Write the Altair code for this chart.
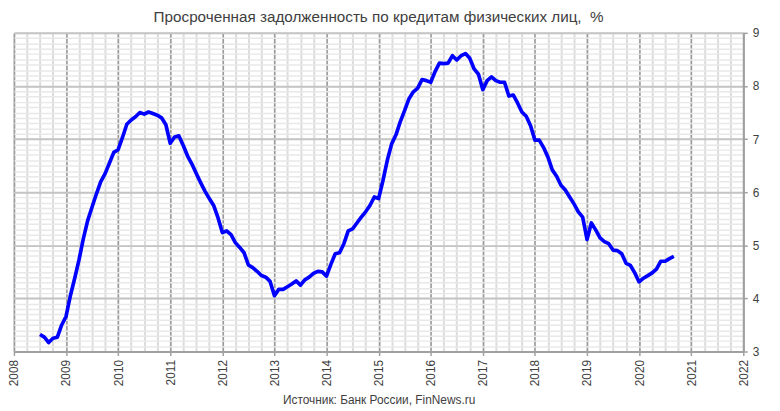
import altair as alt
import pandas as pd

# Monthly overdue share (%), July 2008 .. September 2020
start_month = "2008-07-01"
values_2008 = [3.32, 3.27, 3.17, 3.25, 3.27, 3.50]
values_2009 = [3.66, 4.05, 4.38, 4.73, 5.13, 5.47, 5.72, 5.97, 6.20, 6.35, 6.55, 6.75]
values_2010 = [6.80, 7.03, 7.28, 7.36, 7.42, 7.50, 7.47, 7.51, 7.48, 7.45, 7.40, 7.27]
values_2011 = [6.92, 7.04, 7.06, 6.88, 6.68, 6.53, 6.35, 6.18, 6.02, 5.88, 5.75, 5.52]
values_2012 = [5.24, 5.27, 5.20, 5.05, 4.96, 4.86, 4.63, 4.58, 4.51, 4.43, 4.40, 4.32]
values_2013 = [4.05, 4.17, 4.17, 4.22, 4.27, 4.33, 4.25, 4.35, 4.40, 4.47, 4.51, 4.50]
values_2014 = [4.42, 4.64, 4.84, 4.86, 5.03, 5.27, 5.31, 5.42, 5.53, 5.63, 5.75, 5.91]
values_2015 = [5.88, 6.22, 6.60, 6.91, 7.08, 7.33, 7.54, 7.76, 7.89, 7.96, 8.12, 8.10]
values_2016 = [8.07, 8.27, 8.43, 8.42, 8.43, 8.57, 8.49, 8.57, 8.61, 8.52, 8.32, 8.22]
values_2017 = [7.93, 8.10, 8.17, 8.10, 8.07, 8.07, 7.81, 7.83, 7.68, 7.51, 7.43, 7.25]
values_2018 = [6.98, 6.98, 6.84, 6.66, 6.42, 6.30, 6.13, 6.04, 5.91, 5.78, 5.63, 5.53]
values_2019 = [5.11, 5.42, 5.29, 5.14, 5.07, 5.03, 4.91, 4.90, 4.84, 4.66, 4.62, 4.48]
values_2020 = [4.31, 4.38, 4.43, 4.48, 4.55, 4.70, 4.70, 4.75, 4.79]

all_values = (values_2008 + values_2009 + values_2010 + values_2011 + values_2012
              + values_2013 + values_2014 + values_2015 + values_2016 + values_2017
              + values_2018 + values_2019 + values_2020)

months = pd.date_range(start_month, periods=len(all_values), freq="MS")
df = pd.DataFrame({"t": months.year + (months.month - 1) / 12.0, "v": all_values})

year_ticks = list(range(2008, 2023))
value_ticks = list(range(3, 10))
quarter_ticks = [y + q / 4 for y in range(2008, 2022) for q in range(4)] + [2022]
minor_value_ticks = [round(3 + i / 10, 1) for i in range(61)]

title_text = "Просроченная задолженность по кредитам физических лиц,\u00a0\u00a0%"
source_text = "Источник: Банк России, FinNews.ru"

FONT = "Liberation Sans"
TXT = "#404040"

xscale = alt.Scale(domain=[2008, 2022], nice=False, zero=False)
yscale = alt.Scale(domain=[3, 9], nice=False, zero=False)

base = alt.Chart(df)

minor = base.mark_line(strokeOpacity=0).encode(
    x=alt.X("t:Q", scale=xscale, axis=alt.Axis(
        values=quarter_ticks, grid=True, gridColor="#dcdcdc", gridWidth=2,
        labels=False, ticks=False, domain=False, title=None, orient="bottom")),
    y=alt.Y("v:Q", scale=yscale, axis=alt.Axis(
        values=minor_value_ticks, grid=True, gridColor="#e8e8e8", gridWidth=1.5,
        labels=False, ticks=False, domain=False, title=None, orient="right")),
)

major = base.mark_line(strokeOpacity=0).encode(
    x=alt.X("t:Q", scale=xscale, axis=alt.Axis(
        values=year_ticks, grid=True, gridColor="#9a9a9a", gridWidth=1.5,
        format="d", labelAngle=270, labelFontSize=12, labelColor=TXT, labelFont=FONT,
        labelFlush=False, labelOverlap=False, labelPadding=4,
        ticks=True, tickSize=4, tickColor="#a0a0a0", tickWidth=1.5,
        domain=True, domainColor="#a0a0a0", domainWidth=2,
        title=source_text, titleFontSize=12, titleFontWeight="normal",
        titleColor=TXT, titleFont=FONT, titlePadding=9, orient="bottom")),
    y=alt.Y("v:Q", scale=yscale, axis=alt.Axis(
        values=value_ticks, grid=True, gridColor="#c4c4c4", gridWidth=2,
        format="d", labelFontSize=12, labelColor=TXT, labelFont=FONT,
        labelFlush=False, labelOverlap=False, labelPadding=5,
        ticks=True, tickSize=4, tickColor="#a0a0a0", tickWidth=1.5,
        domain=True, domainColor="#a0a0a0", domainWidth=2,
        title=None, orient="right")),
)

line = base.mark_line(color="#0000ff", strokeWidth=3.7, strokeJoin="round").encode(
    x=alt.X("t:Q", scale=xscale, axis=None),
    y=alt.Y("v:Q", scale=yscale, axis=None),
)

chart = (
    alt.layer(minor, major, line)
    .resolve_axis(x="independent", y="independent")
    .properties(
        width=737, height=322,
        autosize=alt.AutoSizeParams(type="none"),
        padding={"left": 6, "top": 23, "right": 29, "bottom": 58},
        title=alt.TitleParams(title_text, fontSize=15.4, font=FONT, color=TXT,
                              fontWeight="normal", anchor="middle", offset=2),
    )
    .configure_view(stroke=None)
    .configure(background="white")
)

chart.save("out.html", embed_options={"renderer": "svg", "actions": False})
